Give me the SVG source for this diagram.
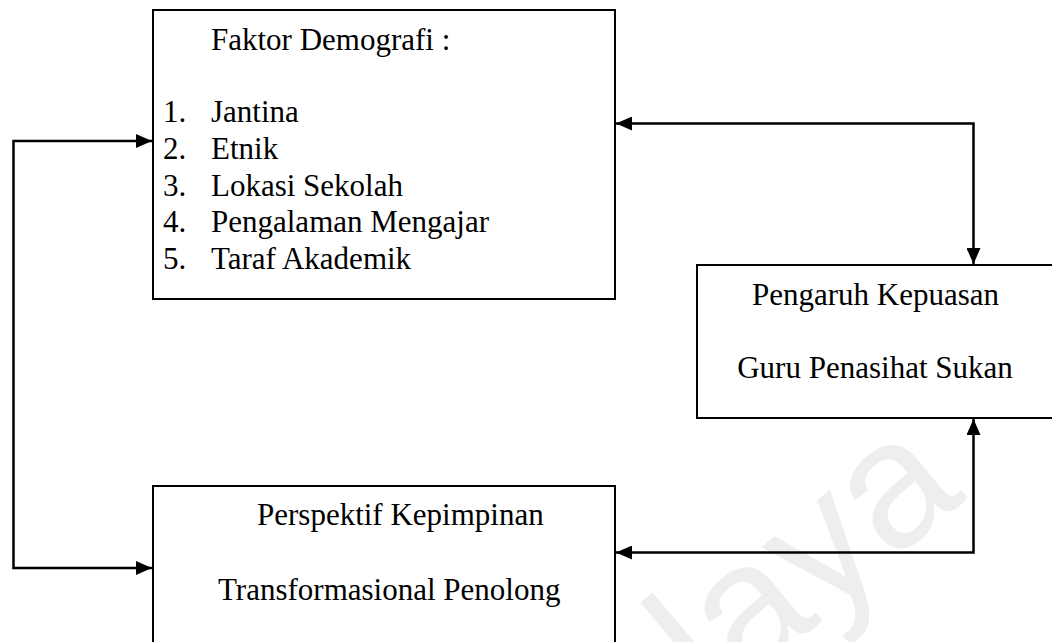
<svg xmlns="http://www.w3.org/2000/svg" width="1052" height="642" viewBox="0 0 1052 642">
  <style>
    .box { fill: none; stroke: #000; stroke-width: 2; }
    .label { font-family: "Liberation Serif", "Times New Roman", serif; font-size: 31px; fill: #000; }
    .link { fill: none; stroke: #000; stroke-width: 2.5; }
    .mark { font-family: "Liberation Sans", Arial, sans-serif; font-size: 180px; fill: #eeeeee; }
  </style>
  <defs>
    <marker id="arrow" viewBox="0 0 16 14" refX="16" refY="7" markerWidth="16" markerHeight="14" markerUnits="userSpaceOnUse" orient="auto-start-reverse">
      <path d="M0,0 L16,7 L0,14 Z" fill="#000"/>
    </marker>
  </defs>

  <rect width="1052" height="642" fill="#fff"/>

  <!-- background watermark -->
  <text class="mark" x="968" y="498" text-anchor="end" transform="rotate(-40 968 498)">Malaya</text>

  <!-- connectors -->
  <g id="connectors">
    <polyline class="link" points="152,141 13.5,141 13.5,568 152,568" marker-start="url(#arrow)" marker-end="url(#arrow)"/>
    <polyline class="link" points="616,123.5 973.5,123.5 973.5,264" marker-start="url(#arrow)" marker-end="url(#arrow)"/>
    <polyline class="link" points="616,552.5 973.5,552.5 973.5,419" marker-start="url(#arrow)" marker-end="url(#arrow)"/>
  </g>

  <g id="faktor-demografi">
    <rect class="box" x="153" y="10" width="462" height="289"/>
    <text class="label" x="211" y="50">Faktor Demografi :</text>
    <text class="label" x="163" y="122">1.</text><text class="label" x="211" y="122">Jantina</text>
    <text class="label" x="163" y="159">2.</text><text class="label" x="211" y="159">Etnik</text>
    <text class="label" x="163" y="196">3.</text><text class="label" x="211" y="196">Lokasi Sekolah</text>
    <text class="label" x="163" y="232">4.</text><text class="label" x="211" y="232">Pengalaman Mengajar</text>
    <text class="label" x="163" y="269">5.</text><text class="label" x="211" y="269">Taraf Akademik</text>
  </g>

  <g id="pengaruh-kepuasan">
    <rect class="box" x="697" y="265" width="358" height="153"/>
    <text class="label" x="875.5" y="305" text-anchor="middle">Pengaruh Kepuasan</text>
    <text class="label" x="875" y="378" text-anchor="middle">Guru Penasihat Sukan</text>
  </g>

  <g id="perspektif-kepimpinan">
    <rect class="box" x="153" y="486" width="462" height="170"/>
    <text class="label" x="257" y="525">Perspektif Kepimpinan</text>
    <text class="label" x="218" y="600">Transformasional Penolong</text>
  </g>
</svg>
